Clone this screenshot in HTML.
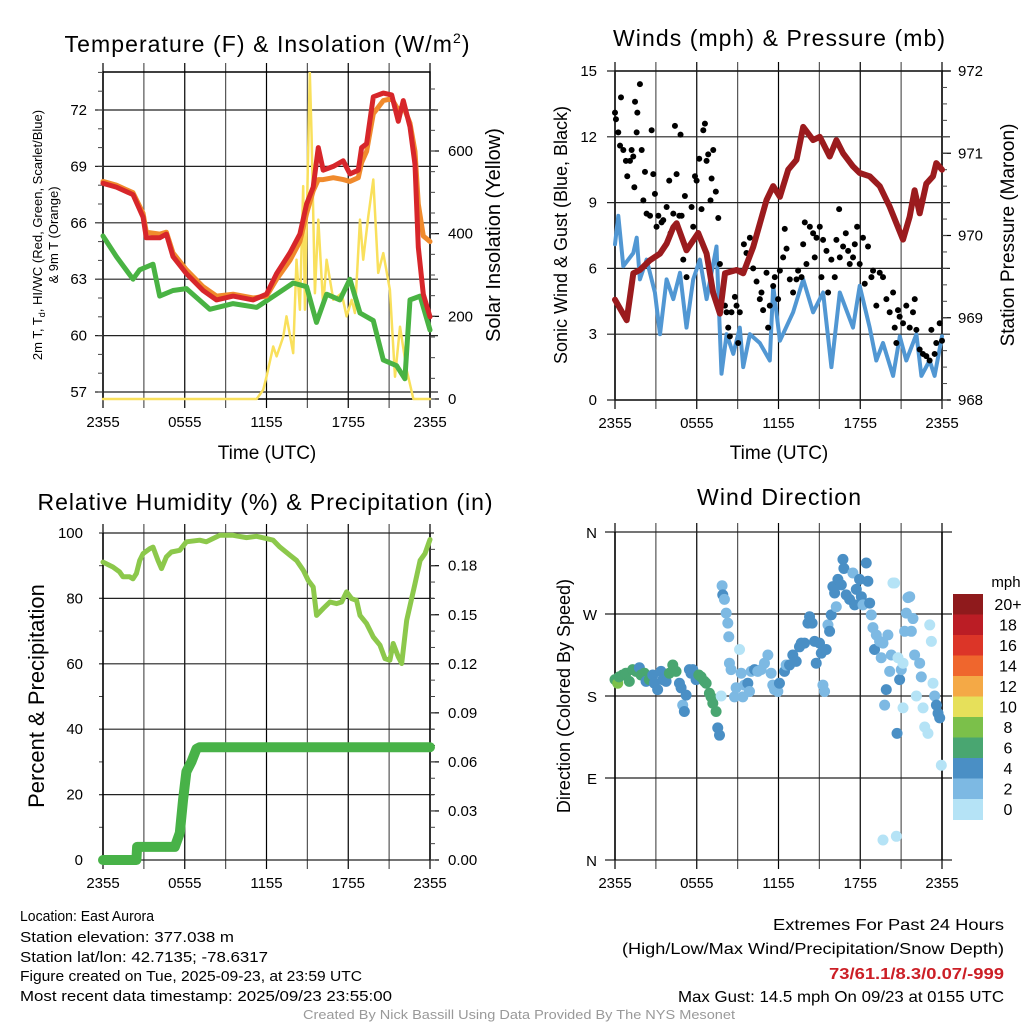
<!DOCTYPE html>
<html><head><meta charset="utf-8"><style>
html,body{margin:0;padding:0;background:#fff;}
svg{display:block;font-family:"Liberation Sans",sans-serif;}
</style></head><body>
<svg id="c" width="1024" height="1024" viewBox="0 0 1024 1024" xmlns="http://www.w3.org/2000/svg"></svg>
<script>
// ---------- DATA ----------
// Panel 1: temperature (hours since 2355 UTC, deg F)
const tempHours=[0,0.98,2.2,2.94,3.18,4.16,4.65,5.14,6.12,7.35,8.33,9.55,11.02,12,12.74,13.72,14.45,14.94,15.43,15.8,16.16,16.9,17.63,18.12,18.74,18.98,19.35,19.84,20.57,21.19,21.67,22.04,22.53,22.9,23.14,23.51,24];
const tempRed=[68.1,67.9,67.5,66.3,65.2,65.2,65.4,64.2,63.3,62.4,61.9,62.1,61.9,62.2,63.3,64.4,65.4,67,67.9,70,68.8,69,69.3,68.6,68.8,70,70.2,72.7,72.9,72.8,71.4,72.5,71.1,69.1,64.7,62.2,61];
const tempOrange=[68.2,68,67.6,66.5,65.5,65.4,65.5,64.4,63.5,62.6,62.1,62.2,62,62.1,63,64,65,66.5,67.7,68.3,68.3,68.4,68.3,68.2,68.4,69.2,69.8,71.8,72.5,72.6,72,72.2,71.3,69.8,67,65.3,65];
const dewHours=[0,0.98,2.2,2.69,3.67,4.16,5.14,6.12,7.84,9.55,11.27,12.74,13.96,14.94,15.67,16.41,17.39,18.12,18.86,19.84,20.57,21.55,22.16,22.53,23.27,24];
const dewGreen=[65.3,64.2,63,63.5,63.8,62.1,62.4,62.5,61.4,61.7,61.5,62.2,62.8,62.6,60.7,62.2,61.9,63,61.2,60.8,58.7,58.4,57.7,61.9,62.1,60.3];
const solarHours=[0,11.27,11.76,12,12.49,12.74,13.23,13.47,13.96,14.2,14.45,14.69,14.82,15.18,15.31,15.55,15.8,16.16,16.41,16.9,17.51,17.88,18.25,18.49,18.86,19.1,19.47,19.84,20.2,20.57,21.06,21.43,21.8,22.29,22.78,24];
const solarVals=[0,0,22,54,127,103,151,200,111,337,216,515,216,790,636,256,434,224,337,240,256,200,240,208,434,337,442,531,305,353,264,54,175,70,0,0];
const tempTicks=[57,60,63,66,69,72];
const solarTicks=[0,200,400,600];
const timeLabels=["2355","0555","1155","1755","2355"];
// Panel 2: winds / pressure
const windHours=[0,0.24,0.61,1.34,1.59,1.83,2.32,2.93,3.3,3.79,4.28,4.77,5.25,5.74,6.23,6.72,7.45,7.82,8.19,8.68,9.16,9.41,9.9,10.63,11.36,11.61,12.1,13.07,13.81,14.54,15.27,15.88,16.5,17.47,17.96,18.69,19.18,19.67,20.41,20.9,21.38,22.12,22.49,23.09,23.46,24];
const windVals=[7.1,8.4,6.1,6.7,7.4,5.5,6.4,4.9,3,5.5,4.6,5.8,3.3,5.5,6.4,4.6,7,1.2,3,2.1,3.3,1.5,3,2.6,1.8,5.2,2.7,4,5.5,4,4.9,1.5,4.9,3.3,5.2,3.3,1.8,2.6,1.1,2.9,1.8,3,1.1,1.8,1.1,2.9];
const presHours=[0,0.86,1.34,1.83,2.57,3.3,3.79,4.28,4.52,5.25,6.11,6.72,7.21,7.7,8.07,8.92,9.41,10.14,11.12,11.61,12.1,12.71,13.32,13.81,14.54,15.03,15.76,16.25,16.74,17.47,17.96,18.69,19.43,20.16,21.14,21.63,21.99,22.36,22.85,23.34,23.58,24];
const presVals=[969.22,968.97,969.54,969.58,969.7,969.78,969.9,970.1,970.15,969.82,970.03,969.78,969.3,969.05,969.54,969.58,969.54,969.86,970.43,970.6,970.47,970.8,970.92,971.32,971.16,971.2,970.96,971.16,971,970.84,970.76,970.72,970.6,970.35,969.95,970.23,970.55,970.27,970.63,970.72,970.88,970.8];
const gustHours=[0,0.07,0.24,0.37,0.44,0.61,0.8,0.9,1.1,1.22,1.34,1.42,1.47,1.59,1.64,1.83,1.96,2.08,2.2,2.32,2.57,2.69,2.81,2.93,3.05,3.18,3.42,3.54,3.79,3.98,4.08,4.28,4.4,4.52,4.72,4.81,4.89,5.01,5.13,5.25,5.62,5.74,5.87,5.99,6.18,6.35,6.48,6.6,6.72,6.84,7.01,7.09,7.21,7.4,7.58,7.7,8.07,8.19,8.31,8.43,8.55,8.8,8.92,9.04,9.16,9.46,9.65,9.9,10.14,10.39,10.63,10.75,10.87,11.12,11.24,11.36,11.61,11.73,11.97,12.1,12.34,12.46,12.59,12.83,13.07,13.32,13.44,13.69,13.81,13.93,14.05,14.3,14.54,14.66,14.79,15.03,15.15,15.27,15.52,15.64,15.88,16.13,16.25,16.45,16.5,16.74,16.94,17.11,17.23,17.47,17.6,17.77,17.96,18.2,18.33,18.57,18.82,18.94,19.18,19.43,19.67,19.92,20.16,20.41,20.53,20.65,20.77,20.89,21.14,21.38,21.63,21.87,22,22.12,22.36,22.6,22.85,23.09,23.22,23.46,23.58,23.83,24];
const gustVals=[13.1,12.8,12.2,11.6,13.8,11.4,10.9,10.2,10.9,11.4,11.1,9.7,13.6,12.2,13.1,14.4,11.4,9.1,10.4,8.5,8.4,12.3,10.3,9.4,7.9,8.4,8.1,8.2,8.8,10,7.6,8.5,12.5,10.3,8.4,12.1,8.4,6.4,9.3,5.6,8.8,7.9,10.2,10,11,8.7,12.3,12.6,10.9,11.2,9.1,10.1,11.4,9.5,8.3,6.2,4.3,4,3.3,2.9,4,4.7,4.3,2.6,4,7.1,6.7,7.4,6,5.4,4.6,4.9,4.1,5.8,3.3,4.3,5.2,5.6,4.6,5.9,6.5,7.8,6.9,5.5,4.9,5.5,5.9,5.6,7.1,8.1,6.2,7.9,7.6,6.5,7.4,7.9,5.6,7.3,6.8,4.9,6.4,5.6,7.3,8.7,6.5,7,7.6,6.8,6.2,6.5,7.1,7.9,6.2,7.4,5.3,7,5.6,5.9,4.3,5.8,5.6,4.6,4,4.9,3.3,2.6,4.1,3.8,3.5,4.3,3.3,4,4.6,3.2,2.3,2.1,2,1.8,3.2,2.1,2.6,3.5,2.7];
const windTicks=[0,3,6,9,12,15];
const presTicks=[968,969,970,971,972];
// Panel 3: RH / precipitation
const rhHours=[0,0.73,1.22,1.47,1.96,2.2,2.45,2.69,2.94,3.43,3.67,4.04,4.29,4.65,5.02,5.63,6.12,7.1,7.59,8.57,9.55,10.53,11.27,12,12.49,12.98,13.72,14.21,14.7,15.06,15.43,15.68,16.16,16.65,17.14,17.51,17.88,18.25,18.61,18.86,19.35,19.84,20.33,20.7,21.06,21.3,21.67,21.92,22.29,22.9,23.27,23.63,24];
const rhVals=[91.1,89.6,88.1,86.6,86.6,86,87.6,91.6,93.7,95.2,95.7,91.6,89.1,92.7,94.2,94.7,97.3,97.8,97.3,99.3,99.3,98.6,99,98.3,97.8,95.7,93.2,91.6,88.6,85.5,83.5,74.8,76.9,78.9,78.4,78.9,82,79.9,79.4,74.8,72.3,68.2,65.7,61.6,61.1,66.2,62.1,60.1,73.3,84.5,91.6,93.7,98];
const precipHours=[0,2.45,2.5,5.27,5.64,5.88,6.12,6.49,6.86,7.1,24];
const precipVals=[0,0,0.008,0.008,0.0165,0.037,0.054,0.06,0.068,0.069,0.069];
const rhTicks=[0,20,40,60,80,100];
const precipTicks=[0,0.03,0.06,0.09,0.12,0.15,0.18];
// Panel 4: wind direction (deg) & speed (mph)
const dirHours=[0,0.2,0.3,0.56,0.8,1.05,1.3,1.54,1.79,1.91,2.16,2.28,2.52,2.77,2.89,3.13,3.38,3.5,3.75,3.99,4.24,4.48,4.73,4.85,4.97,5.09,5.22,5.46,5.58,5.71,5.95,6.15,6.32,6.56,6.69,6.93,7.05,7.18,7.42,7.54,7.67,7.79,7.86,7.91,8.03,8.16,8.28,8.35,8.4,8.52,8.77,8.89,9.14,9.26,9.38,9.5,9.75,9.87,9.99,10.24,10.48,10.73,10.97,11.22,11.46,11.58,11.71,11.95,12.07,12.44,12.56,12.81,13.05,13.3,13.54,13.67,13.91,14.16,14.28,14.47,14.65,14.77,15.01,15.14,15.26,15.38,15.5,15.63,15.75,15.87,15.99,16.12,16.24,16.36,16.61,16.73,16.8,16.97,17.22,17.46,17.59,17.71,17.95,18.08,18.2,18.44,18.56,18.69,18.81,18.93,19.05,19.18,19.42,19.54,19.67,19.79,19.91,20.03,20.16,20.28,20.4,20.52,20.7,20.77,20.89,21.01,21.14,21.26,21.38,21.5,21.63,21.75,21.87,21.99,22.12,22.36,22.48,22.61,22.73,22.97,23.1,23.22,23.34,23.46,23.59,23.71,23.83,23.95,19.67,20.65,21.14,22.85];
const dirVals=[198,194,201,203,205,196,209,207,211,203,205,196,198,203,194,187,207,198,196,205,214,207,194,189,170,163,181,209,205,209,198,203,201,196,194,183,179,172,163,145,137,180,301,291,286,271,260,245,216,209,179,189,231,205,179,192,194,185,207,209,207,209,216,225,205,192,187,185,194,207,214,214,225,218,234,238,238,260,267,260,240,216,238,227,192,185,231,258,251,269,300,293,278,308,302,330,320,291,286,315,280,297,308,289,280,326,306,282,269,255,231,247,240,222,238,170,187,247,207,225,304,304,139,222,198,209,216,251,271,288,289,251,265,225,180,216,201,167,146,139,258,240,194,180,170,161,156,104,22,26,167];
const dirSpeeds=[7,9,7,7,7,7,7,7,5,7,7,5,7,5,5,5,5,5,5,7,7,7,5,5,3,5,5,5,5,5,5,7,7,7,7,7,7,7,7,5,5,1,3,5,3,3,3,3,3,3,3,3,1,3,3,3,5,3,3,5,3,3,3,3,3,3,3,3,5,5,3,5,5,5,5,5,5,5,5,5,5,5,5,5,3,3,5,3,5,5,5,5,3,5,5,5,5,5,5,3,5,5,5,5,3,5,5,5,3,3,5,3,3,3,3,3,5,3,3,3,1,1,5,1,5,3,1,3,3,3,3,3,3,3,1,3,3,1,1,1,1,1,1,3,5,5,5,1,1,1,1];
const dirTicks=[0,90,180,270,360];
const dirLabels=["N","E","S","W","N"];
const speedBins=["0","2","4","6","8","10","12","14","16","18","20+"];
const binColors=["#b5e3f6","#7db9e3","#4a8fc5","#49a671","#7bc04a","#e6e05a","#f4a946","#ef662d","#dc3528","#bb1d25","#8f1a1c"];

// ---------- DRAWING ----------
const NS="http://www.w3.org/2000/svg";
const svg=document.getElementById('c');
function mk(tag,attrs,parent,txt){const e=document.createElementNS(NS,tag);for(const k in attrs)e.setAttribute(k,attrs[k]);if(txt!==undefined)e.textContent=txt;(parent||svg).appendChild(e);return e;}
function grp(name){const g=mk('g',{});return g;}
function lin(d0,d1,r0,r1){return v=>r0+(v-d0)*(r1-r0)/(d1-d0);}

function frame(name,x0,x1,y0,y1){
  const g=grp(name);
  const X=lin(0,24,x0,x1);
  for(let h=0;h<=24;h+=3){
    const l=mk('line',{x1:X(h),x2:X(h),y1:y0-9,y2:y1+9,stroke:(h%6==0?'#000':'#555'),'stroke-width':1.2},g);
    
  }
  timeLabels.forEach((t,i)=>{const e=mk('text',{x:X(i*6),y:y1+28,'font-size':15,'text-anchor':'middle'},g,t);
    });
  return {g,X};
}
function hgrid(g,x0,x1,y,ext){const l=mk('line',{x1:x0-ext,x2:x1+ext,y1:y,y2:y,stroke:'#222','stroke-width':1.2},g);
  }
function poly(g,xs,ys,X,Y,color,w,name){
  const n=Math.min(xs.length,ys.length);
  const pts=xs.slice(0,n).map((h,i)=>X(h).toFixed(1)+','+Y(ys[i]).toFixed(1)).join(' ');
  const p=mk('polyline',{points:pts,fill:'none',stroke:color,'stroke-width':w,'stroke-linejoin':'round','stroke-linecap':'round'},g);
  return p;}
function txt(g,x,y,s,size,name,anchor,rot,extra){
  const a={x:x,y:y,'font-size':size,'text-anchor':anchor||'middle'};
  if(rot)a.transform='rotate('+rot+' '+x+' '+y+')';
  if(extra)Object.assign(a,extra);
  const e=mk('text',a,g,s);return e;}

// ===== Panel 1 =====
(function(){
  const x0=103,x1=430,y0=72,y1=399;
  const {g,X}=frame('temperature-panel',x0,x1,y0,y1);
  const Y=lin(57,72,392,110), YS=lin(0,600,399,151);
  mk('rect',{x:x0,y:y0,width:x1-x0,height:y1-y0,fill:'none',stroke:'#000','stroke-width':1.5},g);
  tempTicks.forEach(v=>{hgrid(g,x0,x1,Y(v),8);txt(g,x0-16,Y(v)+5,String(v),15,'temp-tick-label','end');});
  for(let v=57;v<=74;v++){mk('line',{x1:x0-5,x2:x0,y1:Y(v),y2:Y(v),stroke:'#444'},g);}
  solarTicks.forEach(v=>{mk('line',{x1:x1,x2:x1+9,y1:YS(v),y2:YS(v),stroke:'#000','stroke-width':1.2},g);txt(g,x1+18,YS(v)+5,String(v),15,'solar-tick-label','start');});
  for(let v=0;v<=750;v+=50)mk('line',{x1:x1,x2:x1+5,y1:YS(v),y2:YS(v),stroke:'#444'},g);
  const clip=mk('clipPath',{id:'cp1'},g);mk('rect',{x:x0-4,y:y0,width:x1-x0+8,height:y1-y0+2},clip);
  const d=mk('g',{'clip-path':'url(#cp1)'},g);
  poly(d,solarHours,solarVals,X,YS,'#f9e05c',2.5,'solar-insolation-line');
  poly(d,dewHours,dewGreen,X,Y,'#49b343',5,'dewpoint-line');
  poly(d,tempHours,tempOrange,X,Y,'#f08a2c',5,'9m-temperature-line');
  poly(d,tempHours,tempRed,X,Y,'#d7262a',5,'2m-temperature-line');
  const t=txt(g,267,52,'Temperature (F) & Insolation (W/m',23,'temperature-chart-title');
  mk('tspan',{dy:-9,'font-size':14},t,'2');mk('tspan',{dy:9},t,')');
  t.setAttribute('textLength',405);
  txt(g,267,459,'Time (UTC)',19,'x-axis-title');
  const yl=txt(g,42,235,'',13,'temp-y-axis-title','middle',-90);
  mk('tspan',{},yl,'2m T, T');mk('tspan',{dy:3,'font-size':9},yl,'d');mk('tspan',{dy:-3},yl,', HI/WC (Red, Green, Scarlet/Blue)');
  txt(g,58,235,'& 9m T (Orange)',13,'temp-y-axis-title-line2','middle',-90);
  txt(g,500,235,'Solar Insolation (Yellow)',20,'solar-y-axis-title','middle',-90);
})();

// ===== Panel 2 =====
(function(){
  const x0=615,x1=942,y0=71,y1=400;
  const {g,X}=frame('winds-panel',x0,x1,y0,y1);
  const Y=lin(0,15,400,71), YP=lin(968,972,400,71);
  mk('rect',{x:x0,y:y0,width:x1-x0,height:y1-y0,fill:'none',stroke:'#000','stroke-width':1.5},g);
  windTicks.forEach(v=>{hgrid(g,x0,x1,Y(v),8);txt(g,x0-18,Y(v)+5,String(v),15,'wind-tick-label','end');});
  presTicks.forEach(v=>{mk('line',{x1:x1,x2:x1+9,y1:YP(v),y2:YP(v),stroke:'#000','stroke-width':1.2},g);txt(g,x1+16,YP(v)+5,String(v),15,'pressure-tick-label','start');});
  for(let v=968;v<=972;v+=0.2)mk('line',{x1:x1,x2:x1+5,y1:YP(v),y2:YP(v),stroke:'#444'},g);
  poly(g,windHours,windVals,X,Y,'#5197d3',4,'sonic-wind-line');
  const n=Math.min(gustHours.length,gustVals.length);
  for(let i=0;i<n;i++){const c=mk('circle',{cx:X(gustHours[i]),cy:Y(gustVals[i]),r:3,fill:'#000'},g);
    }
  poly(g,presHours,presVals,X,YP,'#9b1b1e',6,'pressure-line');
  txt(g,779,46,'Winds (mph) & Pressure (mb)',23,'winds-chart-title','middle',0,{textLength:332});
  txt(g,779,459,'Time (UTC)',19,'x-axis-title');
  txt(g,567,235,'Sonic Wind & Gust (Blue, Black)',18,'wind-y-axis-title','middle',-90);
  txt(g,1014,235,'Station Pressure (Maroon)',19,'pressure-y-axis-title','middle',-90);
})();

// ===== Panel 3 =====
(function(){
  const x0=103,x1=430,y0=533,y1=860;
  const {g,X}=frame('humidity-panel',x0,x1,y0,y1);
  const Y=lin(0,100,860,533), YP=lin(0,0.2,860,533);
  rhTicks.forEach(v=>{hgrid(g,x0,x1,Y(v),4);txt(g,x0-20,Y(v)+5,String(v),15,'rh-tick-label','end');});
  for(let v=0;v<=100;v+=10)mk('line',{x1:x0-4,x2:x0,y1:Y(v),y2:Y(v),stroke:'#444'},g);
  mk('line',{x1:x0,x2:x0,y1:y0,y2:y1,stroke:'#000','stroke-width':1.5},g);
  mk('line',{x1:x1,x2:x1,y1:y0,y2:y1,stroke:'#000','stroke-width':1.5},g);
  precipTicks.forEach(v=>{mk('line',{x1:x1,x2:x1+9,y1:YP(v),y2:YP(v),stroke:'#000','stroke-width':1.2},g);txt(g,x1+18,YP(v)+5,v.toFixed(2),15,'precip-tick-label','start');});
  for(let v=0;v<=0.2;v+=0.01)mk('line',{x1:x1,x2:x1+5,y1:YP(v),y2:YP(v),stroke:'#444'},g);
  poly(g,rhHours,rhVals,X,Y,'#8cc84b',5,'relative-humidity-line');
  poly(g,precipHours,precipVals,X,YP,'#48b248',10,'precipitation-line');
  txt(g,265,510,'Relative Humidity (%) & Precipitation (in)',23,'humidity-chart-title','middle',0,{textLength:455});
  txt(g,44,696,'Percent & Precipitation',22,'rh-y-axis-title','middle',-90);
})();

// ===== Panel 4 =====
(function(){
  const x0=615,x1=942,y0=532,y1=860;
  const {g,X}=frame('wind-direction-panel',x0,x1,y0,y1);
  const Y=lin(0,360,860,532);
  dirTicks.forEach((v,i)=>{hgrid(g,x0,x1,Y(v),10);txt(g,x0-18,Y(v)+6,dirLabels[i],15,'direction-tick-label','end');});
  mk('line',{x1:x0,x2:x0,y1:y0,y2:y1,stroke:'#000','stroke-width':1.5},g);
  mk('line',{x1:x1,x2:x1,y1:y0,y2:y1,stroke:'#000','stroke-width':1.5},g);
  const n=Math.min(dirHours.length,dirVals.length,dirSpeeds.length);
  for(let i=0;i<n;i++){const b=Math.min(10,Math.floor(dirSpeeds[i]/2));
    const c=mk('circle',{cx:X(dirHours[i]),cy:Y(dirVals[i]),r:5.5,fill:binColors[b]},g);
    }
  txt(g,779,505,'Wind Direction',23,'wind-direction-chart-title','middle',0,{textLength:164});
  txt(g,570,696,'Direction (Colored By Speed)',18,'direction-y-axis-title','middle',-90);
  const lg=grp('speed-colorbar');svg.appendChild(lg);
  const top=594,bh=20.5;
  speedBins.forEach((s,i)=>{const k=10-i;
    const r=mk('rect',{x:953,y:top+i*bh,width:30,height:bh+0.5,fill:binColors[k]},lg);
    
    txt(lg,1008,top+i*bh+16,speedBins[k],16,'colorbar-label','middle',0,{style:'font-variant-numeric:tabular-nums'});});
  txt(lg,1006,587,'mph',15,'colorbar-title');
})();

// ===== Footer =====
(function(){
  const g=grp('footer');svg.appendChild(g);
  const F={'font-family':'"Liberation Sans Narrow","Liberation Sans",sans-serif'};
  const L=[['Location: East Aurora',921,134],['Station elevation: 377.038 m',942,214],['Station lat/lon: 42.7135; -78.6317',962,248],['Figure created on Tue, 2025-09-23, at 23:59 UTC',981,342],['Most recent data timestamp: 2025/09/23 23:55:00',1001,372]];
  L.forEach(l=>txt(g,20,l[1],l[0],15,'station-info-line','start',0,Object.assign({textLength:l[2],lengthAdjust:'spacingAndGlyphs'},F)));
  const R=[['Extremes For Past 24 Hours',930,231,'#000','normal'],['(High/Low/Max Wind/Precipitation/Snow Depth)',954,382,'#000','normal'],['73/61.1/8.3/0.07/-999',979,175,'#cc1f26','bold'],['Max Gust: 14.5 mph On 09/23 at 0155 UTC',1002,326,'#000','normal']];
  R.forEach(r=>txt(g,1004-r[2],r[1],r[0],16,'extremes-line','start',0,Object.assign({textLength:r[2],lengthAdjust:'spacingAndGlyphs',fill:r[3],'font-weight':r[4]},F)));
  txt(g,303,1019,'Created By Nick Bassill Using Data Provided By The NYS Mesonet',13,'credit-line','start',0,Object.assign({textLength:432,lengthAdjust:'spacingAndGlyphs',fill:'#999'},F));
})();
</script>
</body></html>
